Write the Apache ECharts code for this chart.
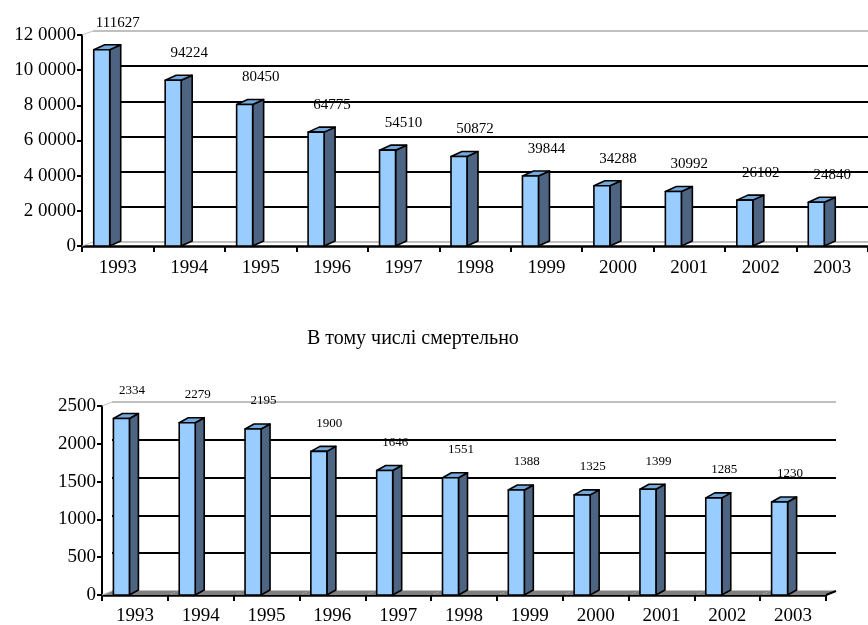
<!DOCTYPE html>
<html>
<head>
<meta charset="utf-8">
<script src="https://cdn.jsdelivr.net/npm/echarts@6/dist/echarts.min.js"></script>
<style>
  html, body { margin: 0; padding: 0; background: #fff; }
  #chart { width: 868px; height: 625px; }
</style>
</head>
<body>
<div id="chart"></div>
<script>
// дані
const years = ['1993', '1994', '1995', '1996', '1997', '1998', '1999', '2000', '2001', '2002', '2003'];
const injured = [111627, 94224, 80450, 64775, 54510, 50872, 39844, 34288, 30992, 26102, 24840];
const killed = [2334, 2279, 2195, 1900, 1646, 1551, 1388, 1325, 1399, 1285, 1230];
const topTicks = ['0', '2 0000', '4 0000', '6 0000', '8 0000', '10 0000', '12 0000'];
const bottomTicks = ['0', '500', '1000', '1500', '2000', '2500'];
const subTitle = 'В тому числі смертельно';

const FONT = '"Liberation Serif", "Times New Roman", serif';
const FRONT = '#99ccff', SIDE = '#4d6483', TOPC = '#74a9dd';

const chart = echarts.init(document.getElementById('chart'));

// 3D стовпчик: передня грань, бічна, верх + підпис
function barItem(p) {
  return function (params, api) {
    const i = api.value(0), v = api.value(1);
    const t = api.coord([i, v]);
    const b = api.coord([i, 0]);
    const cx = t[0], yT = t[1], yB = b[1];
    const x0 = cx + p.frontL, x1 = cx + p.frontR;
    const dx = p.dx, dy = p.dy;
    const st = { stroke: '#000', lineWidth: 1.6, lineJoin: 'round' };
    return {
      type: 'group',
      children: [
        { type: 'polygon', shape: { points: [[x1, yT], [x1 + dx, yT - dy], [x1 + dx, yB - dy], [x1, yB]] },
          style: Object.assign({ fill: SIDE }, st) },
        { type: 'polygon', shape: { points: [[x0, yT], [x0 + dx, yT - dy], [x1 + dx, yT - dy], [x1, yT]] },
          style: Object.assign({ fill: TOPC }, st) },
        { type: 'rect', shape: { x: x0, y: yT, width: x1 - x0, height: yB - yT },
          style: Object.assign({ fill: FRONT }, st) },
        { type: 'text', style: { text: String(v), x: cx + p.labelDx, y: yT + p.labelDy,
          align: 'center', verticalAlign: 'middle', fill: '#000',
          fontSize: p.labelSize, fontFamily: FONT } }
      ]
    };
  };
}

// підлога і ліві ребра стінки
function floorItem(p) {
  return function (params, api) {
    const i = api.value(0);
    const bw = api.size([1, 0])[0];
    const b = api.coord([i, 0]);
    const m = api.coord([i, p.max]);
    const xl = b[0] - bw / 2, xr = b[0] + bw / 2, y = b[1];
    const kids = [];
    if (p.floorFill) {
      kids.push({ type: 'polygon', shape: { points: [[xl, y], [xr, y], [xr + p.dx, y - p.dy], [xl + p.dx, y - p.dy]] },
        style: { fill: p.floorFill, stroke: null } });
    }
    if (i === 0) {
      kids.push({ type: 'line', shape: { x1: xl, y1: m[1], x2: xl + p.dx, y2: m[1] - p.dy }, style: { stroke: '#c0c0c0', lineWidth: 1 } });
      kids.push({ type: 'line', shape: { x1: xl, y1: y, x2: xl + p.dx, y2: y - p.dy }, style: { stroke: '#c0c0c0', lineWidth: 1 } });
    }
    if (i === years.length - 1 && p.floorFill) {
      kids.push({ type: 'line', shape: { x1: xr, y1: y, x2: xr + p.dx, y2: y - p.dy }, style: { stroke: '#000', lineWidth: 2 } });
    }
    return { type: 'group', children: kids };
  };
}

function panel(cfg, gi) {
  const nLines = cfg.ticks.length;
  const splitColors = [];
  for (let k = 0; k < nLines; k++) splitColors.push(k === 0 || k === nLines - 1 ? '#c0c0c0' : '#000');
  const grids = [
    { left: cfg.left + cfg.dx, right: cfg.right - cfg.dx, top: cfg.top - cfg.dy, bottom: cfg.bottom + cfg.dy,
      outerBoundsMode: 'none', containLabel: false },
    { left: cfg.left, right: cfg.right, top: cfg.top, bottom: cfg.bottom,
      outerBoundsMode: 'none', containLabel: false }
  ];
  const xAxes = [
    { gridIndex: gi, type: 'category', data: years, show: false },
    { gridIndex: gi + 1, type: 'category', data: years,
      axisLine: { lineStyle: { color: '#000', width: 2.5 } },
      axisTick: { show: true, length: 6, lineStyle: { color: '#000', width: 2 } },
      axisLabel: { color: '#000', fontFamily: FONT, fontSize: 19, margin: cfg.xMargin, interval: 0 },
      splitLine: { show: false } }
  ];
  const yAxes = [
    { gridIndex: gi, type: 'value', min: 0, max: cfg.max, interval: cfg.interval,
      axisLine: { show: false }, axisTick: { show: false }, axisLabel: { show: false },
      splitLine: { show: true, lineStyle: { color: splitColors, width: 2 } } },
    { gridIndex: gi + 1, type: 'value', min: 0, max: cfg.max, interval: cfg.interval,
      axisLine: { show: true, lineStyle: { color: '#000', width: 2 } },
      axisTick: { show: true, length: 5, lineStyle: { color: '#000', width: 2 } },
      axisLabel: { color: '#000', fontFamily: FONT, fontSize: 19, margin: 6,
        formatter: v => cfg.ticks[Math.round(v / cfg.interval)] },
      splitLine: { show: false } }
  ];
  const series = [
    { type: 'custom', xAxisIndex: gi + 1, yAxisIndex: gi + 1, z: 1, silent: true,
      data: years.map((y, i) => [i, 0]),
      renderItem: floorItem({ max: cfg.max, dx: cfg.dx, dy: cfg.dy, floorFill: cfg.floorFill }) },
    { type: 'custom', xAxisIndex: gi + 1, yAxisIndex: gi + 1, z: 3,
      data: cfg.values.map((v, i) => [i, v]),
      renderItem: barItem(cfg.bar) }
  ];
  return { grids, xAxes, yAxes, series };
}

const upperPanel = panel({
  left: 82, right: 0, top: 35, bottom: 379, dx: 11, dy: 4, xMargin: 13,
  max: 120000, interval: 20000, ticks: topTicks, values: injured, floorFill: null,
  bar: { frontL: -24, frontR: -8, dx: 11, dy: 5, labelDx: 0, labelDy: -27, labelSize: 15 }
}, 0);
const lowerPanel = panel({
  left: 102, right: 42, top: 406, bottom: 30, dx: 10, dy: 4, xMargin: 12,
  max: 2500, interval: 500, ticks: bottomTicks, values: killed, floorFill: '#808080',
  bar: { frontL: -21.5, frontR: -5.5, dx: 9, dy: 5, labelDx: -3, labelDy: -28, labelSize: 13 }
}, 2);

chart.setOption({
  animation: false,
  backgroundColor: '#fff',
  title: {
    text: subTitle, left: 302, top: 324,
    textStyle: { fontFamily: FONT, fontSize: 20, fontWeight: 'normal', color: '#000' }
  },
  grid: upperPanel.grids.concat(lowerPanel.grids),
  xAxis: upperPanel.xAxes.concat(lowerPanel.xAxes),
  yAxis: upperPanel.yAxes.concat(lowerPanel.yAxes),
  series: upperPanel.series.concat(lowerPanel.series)
});
</script>
</body>
</html>
